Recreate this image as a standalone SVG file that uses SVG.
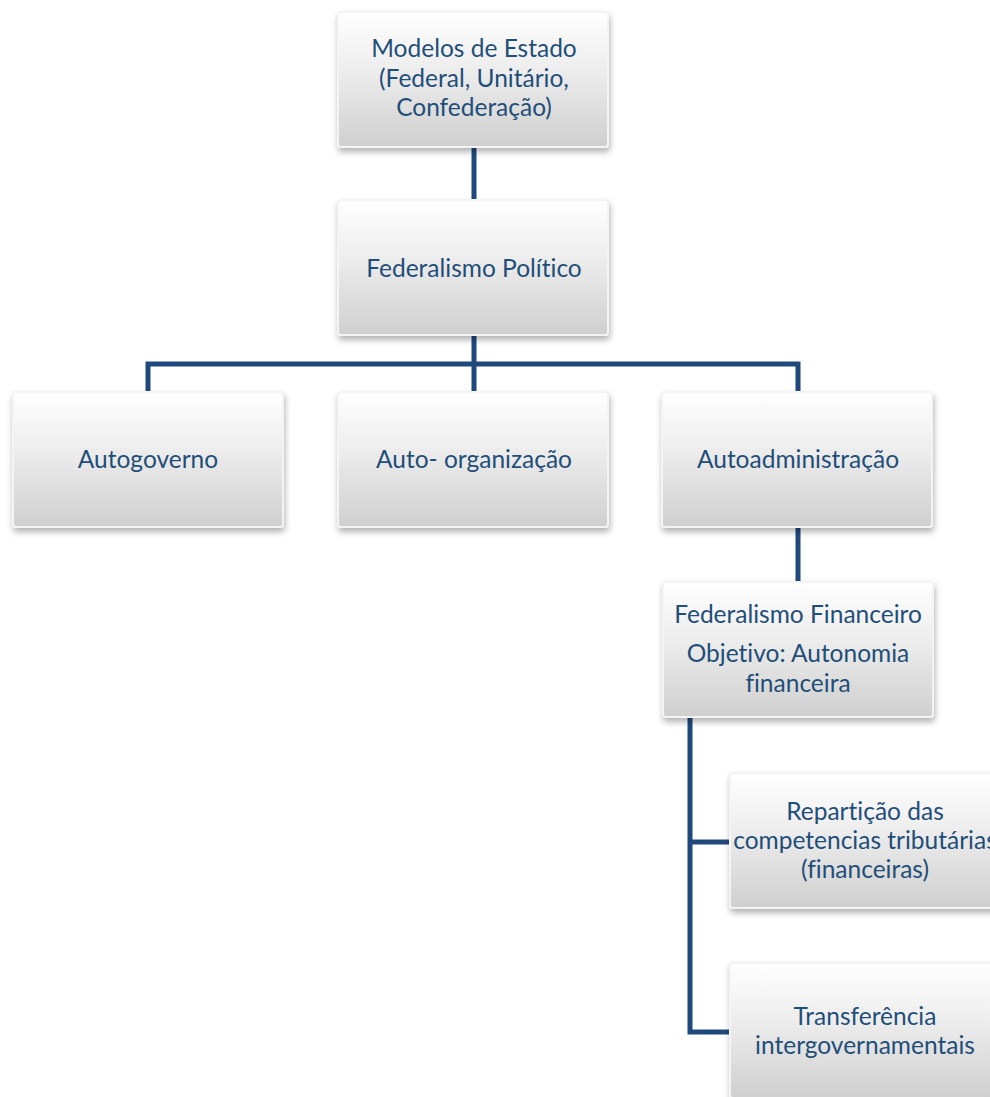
<svg xmlns="http://www.w3.org/2000/svg" width="990" height="1097" viewBox="0 0 990 1097">
<defs>
<linearGradient id="g" x1="0" y1="0" x2="0" y2="1">
<stop offset="0" stop-color="#ffffff"/>
<stop offset="0.45" stop-color="#ececec"/>
<stop offset="1" stop-color="#cfcfcf"/>
</linearGradient>
<filter id="sh" x="-10%" y="-10%" width="125%" height="130%">
<feDropShadow dx="1" dy="4" stdDeviation="3" flood-color="#000" flood-opacity="0.3"/>
</filter>
</defs>
<style>
.box{fill:url(#g);stroke:#f4f4f4;stroke-width:2;filter:url(#sh)}
.t{font-family:Lato,"Open Sans","Liberation Sans",sans-serif;font-size:24.5px;fill:#1f4e79;text-anchor:middle;font-variant-ligatures:none}
.c{fill:none;stroke:#1f497d;stroke-width:5;stroke-linejoin:miter}
</style>
<g id="connectors">
<path class="c" d="M474 147V200"/>
<path class="c" d="M474 335V364M148 392V364H798V392M474 364V392"/>
<path class="c" d="M798 527V582"/>
<path class="c" d="M690 717V1032H730M690 842H730"/>
</g>
<g id="n1"><rect class="box" x="338" y="12" width="270" height="135" rx="3"/>
<text class="t" x="474" y="57">Modelos de Estado</text>
<text class="t" x="474" y="87">(Federal, Unitário,</text>
<text class="t" x="474" y="116">Confederação)</text></g>
<g id="n2"><rect class="box" x="338" y="200" width="270" height="135" rx="3"/>
<text class="t" x="474" y="277">Federalismo Político</text></g>
<g id="n3"><rect class="box" x="13" y="392" width="270" height="135" rx="3"/>
<text class="t" x="148" y="468">Autogoverno</text></g>
<g id="n4"><rect class="box" x="338" y="392" width="270" height="135" rx="3"/>
<text class="t" x="474" y="468">Auto- organização</text></g>
<g id="n5"><rect class="box" x="662" y="392" width="270" height="135" rx="3"/>
<text class="t" x="798" y="468">Autoadministração</text></g>
<g id="n6"><rect class="box" x="663" y="582" width="270" height="135" rx="3"/>
<text class="t" x="798" y="623">Federalismo Financeiro</text>
<text class="t" x="798" y="662">Objetivo: Autonomia</text>
<text class="t" x="798" y="692">financeira</text></g>
<g id="n7"><rect class="box" x="730" y="773" width="270" height="135" rx="3"/>
<text class="t" x="865" y="820">Repartição das</text>
<text class="t" x="865" y="849">competencias tributárias</text>
<text class="t" x="865" y="878">(financeiras)</text></g>
<g id="n8"><rect class="box" x="730" y="963" width="270" height="135" rx="3"/>
<text class="t" x="865" y="1025">Transferência</text>
<text class="t" x="865" y="1054">intergovernamentais</text></g>
</svg>
